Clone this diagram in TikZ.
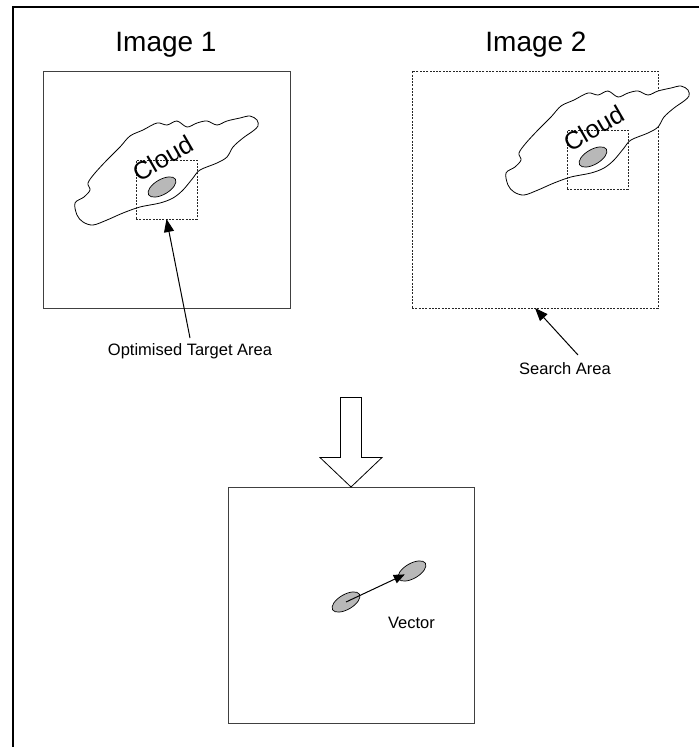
\documentclass[tikz,border=0pt]{standalone}
\usepackage{fontspec}
\setmainfont{Liberation Sans}
\usetikzlibrary{arrows.meta,shapes.geometric}
\begin{document}
\begin{tikzpicture}[x=1pt,y=-1pt,
  box/.style={draw=black!75, line width=0.9pt, inner sep=0pt, outer sep=0pt, anchor=north west},
  dbox/.style={draw=black!85, line width=0.8pt, dash pattern=on 2pt off 1.3pt, inner sep=0pt, outer sep=0pt, anchor=north west},
  blob/.style={draw=black, fill=black!28, line width=0.7pt, ellipse, inner sep=0pt, minimum width=31pt, minimum height=15pt, rotate=30},
  ptr/.style={-{Triangle[length=13pt,width=10pt]}, line width=1pt},
  vptr/.style={-{Triangle[length=11pt,width=9pt]}, line width=1pt},
  title/.style={font=\fontsize{28}{32}\selectfont, anchor=base, inner sep=0pt},
  lbl/.style={font=\fontsize{16.5}{19}\selectfont, inner sep=0pt},
  cloudtxt/.style={font=\fontsize{25}{28}\selectfont, inner sep=0pt, rotate=30},
  cloudshape/.pic={
    \draw[line width=0.8pt, fill=white] plot[smooth cycle, tension=0.55] coordinates {
      (75,203) (84,197) (90,190) (88,183) (95,173) (107,160) (120,147) (130,136)
      (143,130) (157,123) (167,125) (177,121) (187,127) (197,123) (207,121) (217,125)
      (227,121) (240,118) (250,116) (257,120) (258,126) (253,131) (243,138) (233,147)
      (227,157) (217,163) (200,170) (193,178) (183,190) (173,198) (160,203) (140,207)
      (123,213) (107,220) (93,225) (83,222) (77,215)};
  }
]
\useasboundingbox (0,0) rectangle (699,747);
\fill[white] (0,0) rectangle (699,747);
% outer frame
\draw[line width=2pt] (699,7) -- (13,7) -- (13,747);

% titles
\node[title] (t1) at (166,51) {Image 1};
\node[title] (t2) at (536,51) {Image 2};

% Image 1
\node[box, minimum width=247pt, minimum height=237pt] (img1) at (43,71) {};
\pic at (0,0) {cloudshape};
\node[dbox, minimum width=61pt, minimum height=59pt] (tr1) at (136,160) {};
\node[blob] (e1) at (162,187) {};
\node[cloudtxt] (c1) at (163,158) {Cloud};

% Image 2
\node[dbox, minimum width=246pt, minimum height=237pt] (sbox) at (412,71) {};
\pic at (431,-30) {cloudshape};
\node[dbox, minimum width=61pt, minimum height=59pt] (tr2) at (567,130) {};
\node[blob] (e2) at (593,157) {};
\node[cloudtxt] (c2) at (594,128) {Cloud};

% labels and pointers
\node[lbl] (ota) at (190,351) {Optimised Target Area};
\coordinate (otatail) at (190,338);
\draw[ptr] (otatail) -- (tr1.south);

\node[lbl] (sa) at (565,369) {Search Area};
\coordinate (satail) at (578,355);
\draw[ptr] (satail) -- (sbox.south);

% result box
\node[box, minimum width=246pt, minimum height=236pt] (res) at (228,487) {};
\draw[line width=0.8pt, fill=white] (res.north) -- ++(-31,-29.5) -- ++(20.5,0) -- ++(0,-60)
  -- ++(21,0) -- ++(0,60) -- ++(20.5,0) -- cycle;

\node[blob] (ea) at (346,602) {};
\node[blob] (eb) at (412,571) {};
\draw[vptr, shorten >=8pt] (ea.center) -- (eb.center);
\node[lbl, anchor=base] (vec) at (411.5,628) {Vector};
\end{tikzpicture}
\end{document}
